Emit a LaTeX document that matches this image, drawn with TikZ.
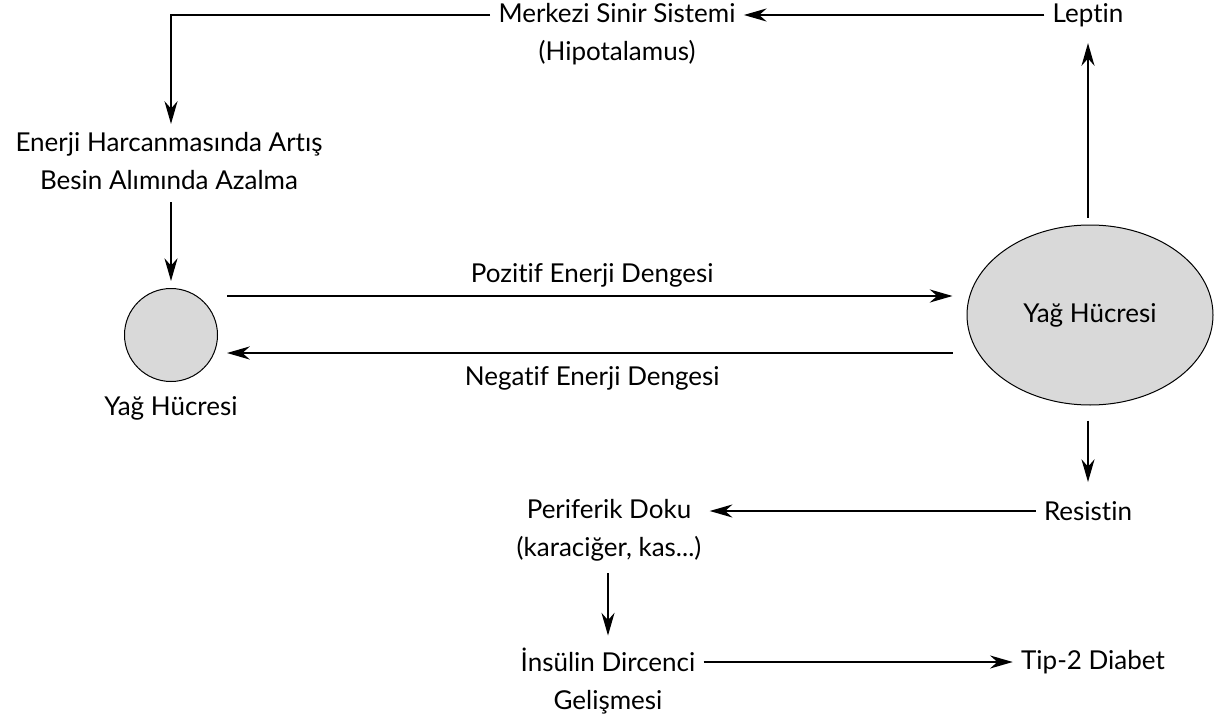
\documentclass[tikz,border=0pt]{standalone}
\usepackage{fontspec}
\setmainfont{Lato}[Ligatures={NoCommon,NoRequired,NoContextual}]
\usetikzlibrary{positioning,arrows.meta,shapes.geometric}

\begin{document}
\begin{tikzpicture}[x=0.5pt, y=-0.5pt, font=\fontsize{13}{19}\selectfont,
  lbl/.style={align=center, inner sep=4pt},
  cell/.style={draw, fill=black!15, line width=0.5pt},
  arr/.style={-{Stealth[length=4mm, width=2.3mm]}, line width=0.7pt},
  barr/.style={-{Stealth[length=4mm, width=2.3mm]}, line width=1.1pt}]
\useasboundingbox (0,0) rectangle (1216,722);
\node[lbl] (merk) at (617,34)  {Merkezi Sinir Sistemi\\(Hipotalamus)};
\node[lbl] (lep)  at (1088,15) {Leptin};
\node[lbl] (ener) at (169,161) {Enerji Harcanmasında Artış\\Besin Alımında Azalma};
\node[cell, circle, minimum size=46.5pt, inner sep=0pt] (small) at (171,335) {};
\node[lbl, below=3pt of small] (smalllbl) {Yağ Hücresi};
\node[cell, ellipse, minimum width=123pt, minimum height=90pt, inner sep=0pt] (big) at (1090,315) {Yağ Hücresi};
\node[lbl] (res)  at (1088,511) {Resistin};
\node[lbl] (peri) at (609,530)  {Periferik Doku\\(karaciğer, kas...)};
\node[lbl] (ins)  at (608,681)  {İnsülin Dircenci\\Gelişmesi};
\node[lbl] (tip)  at (1093,662) {Tip-2 Diabet};
\coordinate (pa) at ([yshift=19.5pt]small.east);
\coordinate (na) at ([yshift=-9pt]small.east);
\draw[arr] (lep.west) -- (lep.west -| merk.east);
\draw[arr] (lep.west -| merk.west) -| (small.north |- ener.north);
\draw[arr, shorten <=2pt, shorten >=3.5pt] (small.north |- ener.south) -- (small.north);
\draw[arr, shorten <=3.5pt, shorten >=4pt] (lep.south |- big.north) -- (lep.south);
\draw[barr, shorten <=4.5pt, shorten >=7pt] (pa) -- (pa -| big.west)
  node[lbl, above, midway] (pos) {Pozitif Enerji Dengesi};
\draw[barr, shorten <=7pt, shorten >=4.5pt] (na -| big.west) -- (na)
  node[lbl, below=2pt, midway] (neg) {Negatif Enerji Dengesi};
\draw[arr, shorten <=7.5pt, shorten >=5.5pt] (res.north |- big.south) -- (res.north);
\draw[arr] (res.west) -- (res.west -| peri.east);
\draw[arr, shorten <=2pt, shorten >=2pt] (peri.south -| ins.north) -- (ins.north);
\draw[arr] (tip.west -| ins.east) -- (tip.west);
\end{tikzpicture}
\end{document}
